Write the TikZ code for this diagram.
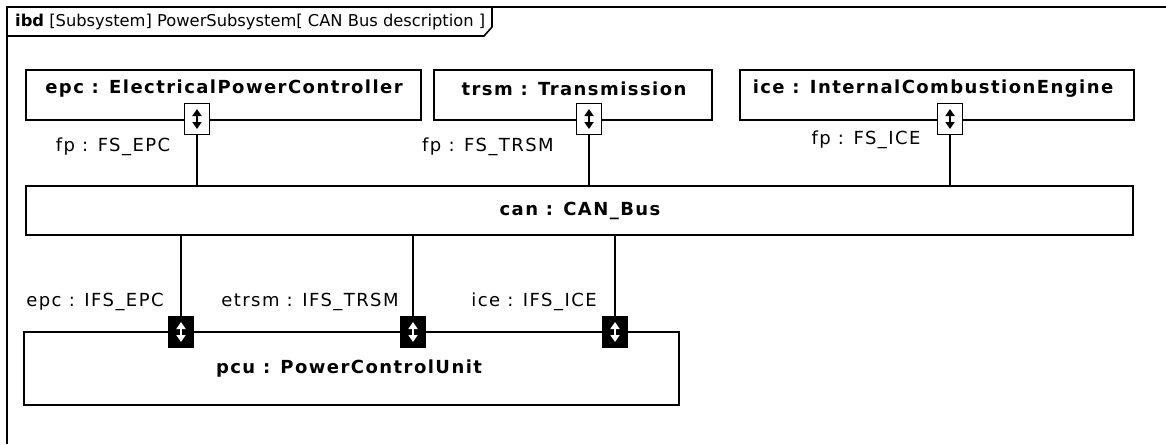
\documentclass[tikz,border=0pt]{standalone}
\usepackage{fontspec}
\setmainfont{DejaVu Sans}
\newfontfamily\lblfont[LetterSpace=8]{DejaVu Sans}
\usetikzlibrary{arrows.meta,calc}
\tikzset{
  blk/.style={draw, line width=1.6pt, rectangle, inner sep=0pt},
  portw/.style={draw, fill=white, line width=1.6pt, rectangle, inner sep=0pt, minimum width=25pt, minimum height=31pt},
  portb/.style={draw, fill=black, line width=1.6pt, rectangle, inner sep=0pt, minimum width=25pt, minimum height=31pt},
  conn/.style={line width=1.6pt},
  bname/.style={font=\lblfont\bfseries\fontsize{18}{21}\selectfont, inner sep=0pt},
  lbl/.style={font=\lblfont\fontsize{18}{21}\selectfont, inner sep=0pt},
  icon/.style={line width=1.8pt, {Triangle[width=9pt,length=7pt]}-{Triangle[width=9pt,length=7pt]}}
}
\begin{document}
\begin{tikzpicture}[x=1pt,y=-1pt]
\useasboundingbox (0,0) rectangle (1166,444);
\fill[white] (0,0) rectangle (1166,444);
% frame
\coordinate (fTR) at (1166,7);
\coordinate (fTL) at (7,7);
\coordinate (fBL) at (7,444);
\draw[line width=1.6pt] (fTR) -- (fTL) -- (fBL);
\coordinate (t1) at (492,7);
\coordinate (t2) at (492,27);
\coordinate (t3) at (484,36);
\coordinate (t4) at (7,36);
\draw[line width=1.6pt] (t1) -- (t2) -- (t3) -- (t4);
\node[anchor=west, inner sep=0pt, font=\fontsize{16.3}{19}\selectfont] (hdr) at (15,22) {\textbf{ibd} [Subsystem] PowerSubsystem[ CAN Bus description ]};
% top parts
\node[blk, minimum width=395pt, minimum height=50pt] (epc) at (223.5,95) {};
\node[blk, minimum width=278pt, minimum height=50pt] (trsm) at (573,95) {};
\node[blk, minimum width=394pt, minimum height=50pt] (ice) at (937,95) {};
\node[bname] (epcn) at (224,89) {epc : ElectricalPowerController};
\node[bname] (trsmn) at (574,89) {trsm : Transmission};
\node[bname] (icen) at (933,89) {ice : InternalCombustionEngine};
% bus
\node[blk, minimum width=1107pt, minimum height=49pt] (can) at (579.5,210.5) {};
\node[bname] (cann) at (580,211) {can : CAN\_Bus};
% pcu
\node[blk, minimum width=655pt, minimum height=73pt] (pcu) at (351.5,368.5) {};
\node[bname] (pcun) at (349,369) {pcu : PowerControlUnit};
% upper ports
\node[portw] (pe) at (197,119) {};
\node[portw] (pt) at (589,119) {};
\node[portw] (pi) at (950,119) {};
\foreach \p in {pe,pt,pi}{
  \draw[icon, black] ($(\p.center)+(0,-10)$) -- ($(\p.center)+(0,10)$);
}
% lower ports
\node[portb] (qe) at (181,332) {};
\node[portb] (qt) at (413,332) {};
\node[portb] (qi) at (615,332) {};
\foreach \p in {qe,qt,qi}{
  \draw[icon, white] ($(\p.center)+(0,-10)$) -- ($(\p.center)+(0,10)$);
}
% connectors
\draw[conn] (pe.south) -- (pe.south |- can.north);
\draw[conn] (pt.south) -- (pt.south |- can.north);
\draw[conn] (pi.south) -- (pi.south |- can.north);
\draw[conn] (qe.north |- can.south) -- (qe.north);
\draw[conn] (qt.north |- can.south) -- (qt.north);
\draw[conn] (qi.north |- can.south) -- (qi.north);
% port labels
\node[lbl] (lpe) at (113,147) {fp : FS\_EPC};
\node[lbl] (lpt) at (488,147) {fp : FS\_TRSM};
\node[lbl] (lpi) at (866,140) {fp : FS\_ICE};
\node[lbl] (lqe) at (95,302) {epc : IFS\_EPC};
\node[lbl] (lqt) at (310,302) {etrsm : IFS\_TRSM};
\node[lbl] (lqi) at (534,302) {ice : IFS\_ICE};
\end{tikzpicture}
\end{document}
